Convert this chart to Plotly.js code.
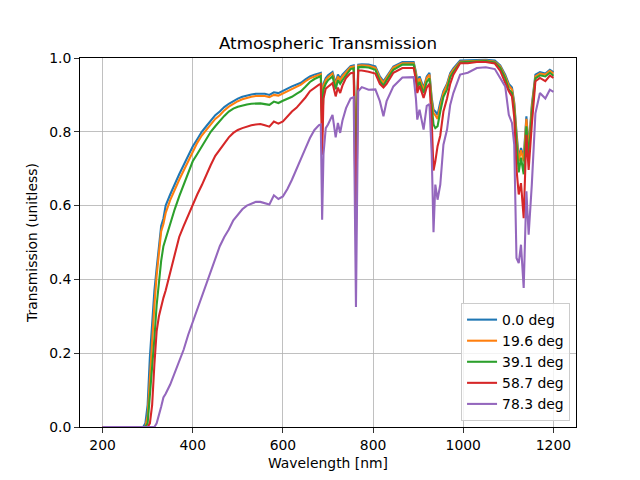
<!DOCTYPE html>
<html><head><meta charset="utf-8">
<script src="https://cdn.plot.ly/plotly-3.0.1.min.js"></script>
<style>html,body{margin:0;padding:0;background:#fff}</style>
</head><body>
<div id="chart" style="width:640px;height:480px"></div>
<script>
const wavelength = [200,290,295,300,305,310,315,320,325,330,335,340,350,360,370,380,390,400,410,420,430,440,450,460,470,480,490,500,510,520,530,540,550,560,570,580,590,600,610,620,630,640,650,660,670,680,684,687,690,695,700,710,717,722,727,732,740,750,757,762,767,775,790,805,815,823,830,845,865,890,895,898,903,912,919,925,930,934,938,943,949,956,964,971,978,993,1010,1030,1050,1070,1082,1093,1101,1108,1113,1118,1123,1128,1134,1140,1145,1152,1160,1170,1182,1192,1200];

const t_0_0 = [0,0,0.01,0.06,0.19,0.29,0.37,0.43,0.49,0.545,0.565,0.60,0.63,0.66,0.685,0.71,0.735,0.76,0.78,0.80,0.815,0.83,0.845,0.855,0.867,0.876,0.884,0.89,0.895,0.899,0.901,0.903,0.904,0.903,0.90,0.907,0.905,0.91,0.917,0.923,0.928,0.933,0.942,0.95,0.955,0.959,0.96,0.84,0.93,0.946,0.953,0.962,0.932,0.955,0.945,0.955,0.966,0.978,0.98,0.72,0.982,0.983,0.982,0.977,0.95,0.937,0.95,0.977,0.989,0.989,0.962,0.935,0.95,0.919,0.95,0.96,0.892,0.86,0.855,0.846,0.88,0.91,0.93,0.959,0.972,0.993,0.994,0.995,0.995,0.993,0.98,0.955,0.93,0.92,0.88,0.80,0.729,0.756,0.73,0.842,0.756,0.873,0.955,0.962,0.958,0.968,0.962];

const t_19_6 = [0,0,0,0.03,0.14,0.24,0.33,0.41,0.47,0.53,0.55,0.58,0.615,0.645,0.67,0.695,0.72,0.745,0.77,0.79,0.805,0.82,0.835,0.845,0.858,0.868,0.876,0.883,0.888,0.892,0.895,0.897,0.898,0.897,0.894,0.90,0.898,0.904,0.912,0.917,0.922,0.928,0.937,0.945,0.95,0.955,0.956,0.83,0.925,0.94,0.948,0.958,0.926,0.95,0.94,0.95,0.962,0.975,0.977,0.70,0.979,0.98,0.979,0.973,0.946,0.933,0.946,0.974,0.986,0.986,0.958,0.93,0.945,0.914,0.946,0.955,0.885,0.85,0.845,0.835,0.87,0.905,0.927,0.955,0.968,0.99,0.991,0.993,0.993,0.99,0.977,0.95,0.925,0.915,0.875,0.79,0.72,0.75,0.72,0.835,0.75,0.865,0.95,0.958,0.955,0.965,0.958];

const t_39_1 = [0,0,0,0.01,0.08,0.15,0.24,0.33,0.40,0.45,0.49,0.51,0.555,0.59,0.625,0.655,0.69,0.72,0.74,0.76,0.78,0.80,0.815,0.83,0.843,0.855,0.863,0.868,0.872,0.874,0.876,0.877,0.877,0.875,0.873,0.882,0.878,0.884,0.889,0.895,0.903,0.91,0.922,0.935,0.943,0.95,0.951,0.80,0.915,0.93,0.94,0.95,0.915,0.94,0.93,0.94,0.955,0.97,0.972,0.64,0.975,0.976,0.974,0.968,0.938,0.925,0.94,0.968,0.982,0.982,0.95,0.92,0.935,0.905,0.935,0.945,0.87,0.82,0.81,0.815,0.855,0.895,0.915,0.948,0.962,0.988,0.99,0.992,0.992,0.988,0.973,0.945,0.915,0.905,0.86,0.77,0.69,0.73,0.685,0.815,0.73,0.85,0.945,0.953,0.95,0.96,0.952];

const t_58_7 = [0,0,0,0,0.01,0.06,0.17,0.26,0.30,0.33,0.35,0.37,0.42,0.47,0.515,0.545,0.575,0.60,0.63,0.655,0.685,0.71,0.735,0.752,0.77,0.785,0.797,0.805,0.81,0.815,0.818,0.82,0.821,0.818,0.814,0.828,0.822,0.828,0.843,0.855,0.865,0.878,0.893,0.91,0.92,0.928,0.93,0.738,0.89,0.917,0.922,0.932,0.896,0.92,0.905,0.925,0.946,0.959,0.96,0.52,0.966,0.966,0.963,0.958,0.93,0.92,0.93,0.96,0.973,0.973,0.94,0.905,0.925,0.892,0.92,0.93,0.83,0.695,0.72,0.761,0.79,0.855,0.89,0.93,0.955,0.986,0.986,0.989,0.989,0.985,0.965,0.932,0.91,0.896,0.84,0.70,0.63,0.661,0.566,0.792,0.697,0.819,0.937,0.946,0.937,0.952,0.946];

const t_78_3 = [0,0,0,0,0,0,0,0.01,0.03,0.055,0.08,0.09,0.115,0.145,0.18,0.21,0.25,0.285,0.32,0.355,0.39,0.42,0.455,0.49,0.515,0.535,0.56,0.575,0.59,0.60,0.605,0.61,0.61,0.607,0.603,0.628,0.618,0.625,0.645,0.67,0.70,0.73,0.755,0.783,0.805,0.818,0.82,0.562,0.74,0.81,0.82,0.846,0.785,0.824,0.797,0.83,0.864,0.89,0.894,0.325,0.91,0.921,0.914,0.915,0.883,0.842,0.883,0.923,0.947,0.948,0.89,0.833,0.86,0.806,0.87,0.875,0.74,0.528,0.657,0.616,0.657,0.765,0.806,0.873,0.905,0.955,0.96,0.973,0.975,0.97,0.946,0.923,0.846,0.824,0.765,0.458,0.444,0.494,0.377,0.639,0.521,0.657,0.85,0.905,0.89,0.914,0.908];

const seriesNames = ['0.0 deg','19.6 deg','39.1 deg','58.7 deg','78.3 deg'];
const seriesData = [t_0_0, t_19_6, t_39_1, t_58_7, t_78_3];
const colors = ['#1f77b4','#ff7f0e','#2ca02c','#d62728','#9467bd'];
const xTicks = [200,400,600,800,1000,1200];
const yTicks = [0,0.2,0.4,0.6,0.8,1.0];

const traces = seriesData.map((y,i)=>({
  x: wavelength, y: y, type:'scatter', mode:'lines', name: seriesNames[i],
  line:{color:colors[i], width:2.08}
}));

const font = {family:'DejaVu Sans, sans-serif', size:13.9, color:'#000'};
const layout = {
  width:640, height:480,
  margin:{l:80, r:64, t:58, b:53},
  paper_bgcolor:'#fff', plot_bgcolor:'#fff',
  font: font,
  title:{text:'Atmospheric Transmission', font:{family:'DejaVu Sans, sans-serif', size:16.7, color:'#000'},
    x:0.5, xref:'paper', xanchor:'center', y:1-43/480, yref:'container', yanchor:'middle'},
  xaxis:{range:[150,1250], tickvals:xTicks, ticktext:xTicks.map(String), ticks:'outside', ticklen:4.9, tickwidth:0.8, tickcolor:'#000',
    showline:true, mirror:true, linecolor:'#000', linewidth:1, showgrid:true, gridcolor:'#b0b0b0', gridwidth:0.8, zeroline:false,
    title:{text:'Wavelength [nm]', font:font, standoff:6}, tickfont:font},
  yaxis:{range:[0,1], tickvals:yTicks, ticktext:yTicks.map(v=>v.toFixed(1)), ticks:'outside', ticklen:4.9, tickwidth:0.8, tickcolor:'#000',
    showline:true, mirror:true, linecolor:'#000', linewidth:1, showgrid:true, gridcolor:'#b0b0b0', gridwidth:0.8, zeroline:false,
    title:{text:'Transmission (unitless)', font:font, standoff:8}, tickfont:font},
  legend:{x:0.988, xanchor:'right', y:0.016, yanchor:'bottom', bgcolor:'rgba(255,255,255,0.8)', bordercolor:'#cccccc', borderwidth:1,
    font:font, tracegroupgap:0},
  showlegend:true
};
Plotly.newPlot('chart', traces, layout, {staticPlot:true, displayModeBar:false});
</script>
</body></html>
